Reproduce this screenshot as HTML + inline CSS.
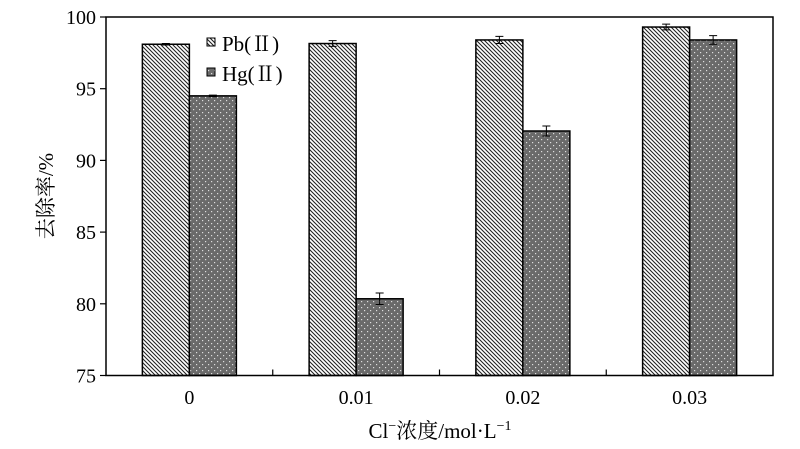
<!DOCTYPE html>
<html><head><meta charset="utf-8"><style>body{margin:0;background:#fff}svg{display:block}</style></head>
<body>
<svg id="c" width="800" height="449" xmlns="http://www.w3.org/2000/svg" font-family="'Liberation Serif','Noto Serif CJK SC',serif">
<defs>
<pattern id="hatch" patternUnits="userSpaceOnUse" width="4" height="4"><rect width="4" height="4" fill="#fff"/><path d="M-1,-1 L5,5 M-1,3 L1,5 M3,-1 L5,1" stroke="#222" stroke-width="1.1"/></pattern>
<pattern id="dots" patternUnits="userSpaceOnUse" width="6" height="6"><rect width="6" height="6" fill="#6a6a6a"/><rect x="1" y="1" width="1.2" height="1.2" fill="#ddd"/><rect x="4" y="4" width="1.2" height="1.2" fill="#ddd"/></pattern>
</defs>
<g id="plot"></g>
</svg>
<script>
const categories=["0","0.01","0.02","0.03"];
const pbValues=[98.1,98.15,98.4,99.3];
const pbErrors=[0.05,0.2,0.25,0.2];
const hgValues=[94.5,80.35,92.05,98.4];
const hgErrors=[0.05,0.4,0.35,0.3];
const yTicks=[75,80,85,90,95,100];
const L=106,R=773,T=17,B=375.5,yMin=75,yMax=100;
const NS="http://www.w3.org/2000/svg";
const g=document.getElementById('plot');
function y(v){return B-(v-yMin)/(yMax-yMin)*(B-T);}
const gw=(R-L)/categories.length;
function xc(i){return L+gw*(i+0.5);}
function mk(t,a,txt){const e=document.createElementNS(NS,t);for(const k in a)e.setAttribute(k,a[k]);if(txt!==undefined)e.textContent=txt;g.appendChild(e);return e;}
const bw=47;
function bar(i,v,err,off,fill,name){
  const x=xc(i)+off;
  const r=mk('rect',{x:x,y:y(v),width:bw,height:B-y(v),fill:fill,stroke:'#000','stroke-width':1.5});
  
  
  const cx=x+bw/2;
  const eb=mk('path',{d:`M${cx},${y(v+err)}V${y(v-err)}M${cx-4},${y(v+err)}H${cx+4}M${cx-4},${y(v-err)}H${cx+4}`,stroke:'#000','stroke-width':1,fill:'none'});
  
  
}
categories.forEach((c,i)=>{
  bar(i,pbValues[i],pbErrors[i],-bw,'url(#hatch)','bar-pb');
  bar(i,hgValues[i],hgErrors[i],0,'url(#dots)','bar-hg');
  const t=mk('text',{x:xc(i),y:404,'font-size':20,'text-anchor':'middle'},c);
  
  
  if(i>0){mk('line',{x1:L+gw*i,x2:L+gw*i,y1:B,y2:B-6,stroke:'#000','stroke-width':1.2});}
});
yTicks.forEach(v=>{
  mk('line',{x1:L-6,x2:L,y1:y(v),y2:y(v),stroke:'#000','stroke-width':1.2});
  const t=mk('text',{x:L-10,y:y(v)+7,'font-size':20,'text-anchor':'end'},v);
  
  
});
const fr=mk('rect',{x:L,y:T,width:R-L,height:B-T,fill:'none',stroke:'#000','stroke-width':1.5});


</script>
<svg style="position:absolute;left:0;top:0" width="800" height="449" font-family="'Liberation Serif','Noto Serif CJK SC',serif">
<g>
<rect x="207" y="38" width="8" height="8" fill="url(#hatch)" stroke="#000" stroke-width="1"/>
<text x="222" y="51" font-size="21">Pb(Ⅱ)</text>
<rect x="207" y="68" width="8" height="8" fill="url(#dots)" stroke="#000" stroke-width="1"/>
<text x="222" y="81" font-size="21">Hg(Ⅱ)</text>
</g>
<text x="0" y="0" font-size="21" transform="translate(53,196) rotate(-90)" text-anchor="middle">去除率/%</text>
<text x="440" y="438" font-size="21" text-anchor="middle">Cl<tspan dy="-8" font-size="14">−</tspan><tspan dy="8">浓度/mol·L</tspan><tspan dy="-8" font-size="14">−1</tspan></text>
</svg>
</body></html>
